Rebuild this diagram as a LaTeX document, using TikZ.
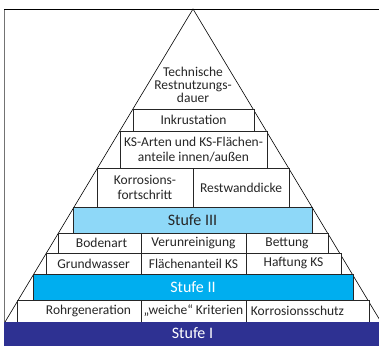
\documentclass[tikz,border=0pt]{standalone}
\usepackage{fontspec}
\setmainfont{Carlito}
\definecolor{stufeA}{HTML}{2E3192}
\definecolor{stufeB}{HTML}{00AEEF}
\definecolor{stufeC}{HTML}{8ED8F8}
\begin{document}
\begin{tikzpicture}[x=1pt,y=-1pt,
  cell/.style={draw=black!85, line width=0.6pt, fill=white, inner sep=0pt,
    text=black!85, font=\fontsize{13.5}{14.5}\selectfont, align=center},
  label/.style={inner sep=0pt, text=black!85, font=\fontsize{13.5}{14.5}\selectfont, align=center},
  stufe/.style={cell, font=\fontsize{16}{17}\selectfont},
  frameline/.style={line width=0.7pt}]
\useasboundingbox (0,0) rectangle (379,345);
\begin{scope}
\clip (0,0) rectangle (379,345);
% frame
\coordinate (fa) at (4,345);
\coordinate (fb) at (4,9);
\coordinate (fc) at (379,9);
\draw[frameline, draw=black!55] (fa) -- (fb);
\draw[frameline] (fb) -- (fc);
% triangle
\coordinate (apex) at (193,9);
\coordinate (bl) at (5,322);
\coordinate (br) at (381,322);
\draw[line width=0.6pt] (bl) -- (apex) -- (br);
\end{scope}
\node[label, font=\fontsize{13.5}{13}\selectfont] (top) at (193,85) {Technische\\Restnutzungs-\\dauer};
% rows
\node[cell, minimum width=121, minimum height=22] (ink) at (193.5,120) {Inkrustation};
\node[cell, minimum width=147, minimum height=37, font=\fontsize{13.5}{15}\selectfont] (ksa) at (193.5,149.5) {KS-Arten und KS-Flächen-\\anteile innen/außen};
\node[cell, minimum width=96, minimum height=39] (kor) at (145,187.5) {Korrosions-\\fortschritt};
\node[cell, minimum width=96, minimum height=39] (rest) at (241,187.5) {Restwanddicke};
\node[stufe, fill=stufeC, minimum width=239, minimum height=26] (s3) at (192.5,220) {Stufe III};
\node[cell, minimum width=83, minimum height=20] (boden) at (99.5,243) {};
\node[label] (bodenT) at (101.5,243) {Bodenart};
\node[cell, minimum width=105, minimum height=20] (verun) at (193.5,243) {Verunreinigung};
\node[cell, minimum width=82, minimum height=20] (bett) at (287,243) {Bettung};
\node[cell, minimum width=95, minimum height=21] (grund) at (93.5,263.5) {Grundwasser};
\node[cell, minimum width=105, minimum height=21] (flae) at (193.5,263.5) {Flächenanteil KS};
\node[cell, minimum width=95, minimum height=21] (haft) at (293.5,263.5) {Haftung KS};
\node[stufe, fill=stufeB, text=white, minimum width=320, minimum height=26] (s2) at (193,287) {Stufe II};
\node[cell, minimum width=124, minimum height=22] (rohr) at (79,311) {};
\node[label] (rohrT) at (88.5,311) {Rohrgeneration};
\node[cell, minimum width=105, minimum height=22] (weich) at (193.5,311) {„weiche“ Kriterien};
\node[cell, minimum width=123, minimum height=22] (schutz) at (307.5,311) {};
\node[label] (schutzT) at (297.5,311) {Korrosionsschutz};
\node[stufe, fill=stufeA, draw=stufeA, text=white, minimum width=377, minimum height=23] (s1) at (192.5,333.5) {Stufe I};
\end{tikzpicture}
\end{document}
